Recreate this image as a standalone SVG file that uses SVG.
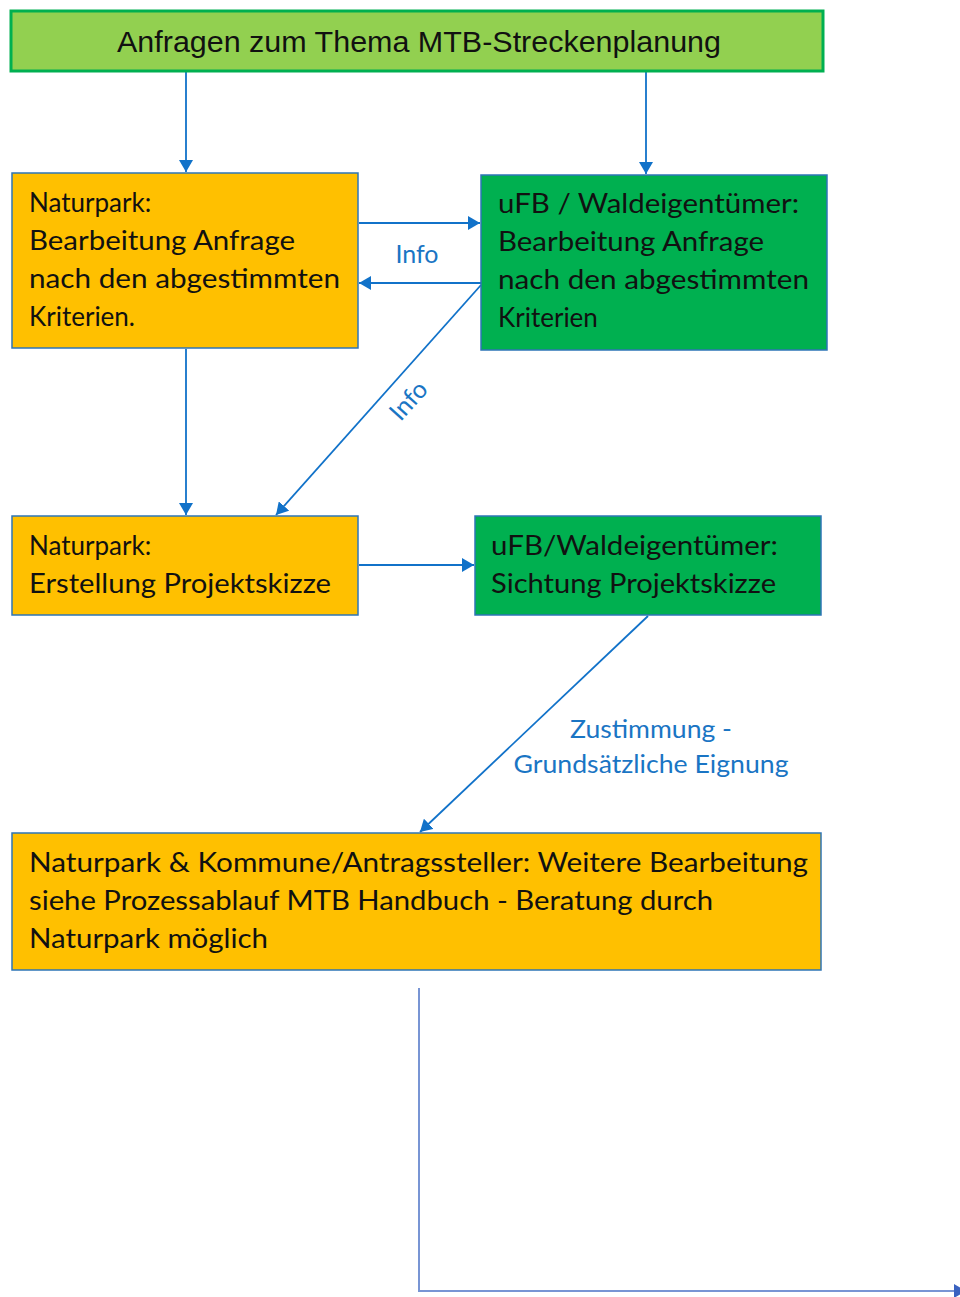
<svg xmlns="http://www.w3.org/2000/svg" width="960" height="1297" viewBox="0 0 960 1297">
<defs>
<style>
.box{stroke:#2E75B6;stroke-width:1.5}
.or{fill:#FFC000}
.gr{fill:#00B050}
.t{font-family:Lato,"Open Sans","Noto Sans",sans-serif;font-size:26px;fill:#111}
.lbl{font-family:Lato,"Open Sans","Noto Sans",sans-serif;font-size:25px;fill:#1A75C4}
.c{stroke:#1172C9;stroke-width:1.8;fill:none}
</style>
<marker id="ah" viewBox="0 0 12 14" refX="12" refY="7" markerWidth="12" markerHeight="14" markerUnits="userSpaceOnUse" orient="auto"><path d="M0,0 L12,7 L0,14 z" fill="#1172C9"/></marker>
<marker id="ah2" viewBox="0 0 12 14" refX="12" refY="7" markerWidth="12" markerHeight="14" markerUnits="userSpaceOnUse" orient="auto"><path d="M0,0 L12,7 L0,14 z" fill="#3A62C0"/></marker>
</defs>
<rect width="960" height="1297" fill="#fff"/>
<g id="connectors">
<line class="c" x1="186" y1="72" x2="186" y2="172" marker-end="url(#ah)"/>
<line class="c" x1="646" y1="72" x2="646" y2="174" marker-end="url(#ah)"/>
<line class="c" x1="359" y1="223" x2="480" y2="223" marker-end="url(#ah)"/>
<line class="c" x1="481" y1="283" x2="359" y2="283" marker-end="url(#ah)"/>
<line class="c" x1="481" y1="285" x2="276" y2="515" marker-end="url(#ah)"/>
<line class="c" x1="186" y1="349" x2="186" y2="515" marker-end="url(#ah)"/>
<line class="c" x1="359" y1="565" x2="474" y2="565" marker-end="url(#ah)"/>
<line class="c" x1="648" y1="616" x2="420" y2="832" marker-end="url(#ah)"/>
<polyline points="419,988 419,1291 966,1291" fill="none" stroke="#7895D4" stroke-width="2" marker-end="url(#ah2)"/>
<text class="lbl" x="417" y="263" text-anchor="middle">Info</text>
<text class="lbl" x="409" y="409" text-anchor="middle" transform="rotate(-48 409 401)">Info</text>
<text class="lbl" x="651" y="738" text-anchor="middle" textLength="162" lengthAdjust="spacingAndGlyphs">Zustimmung -</text>
<text class="lbl" x="651" y="773" text-anchor="middle" textLength="275" lengthAdjust="spacingAndGlyphs">Grundsätzliche Eignung</text>
</g>
<g id="n-top">
<rect x="11" y="11" width="812" height="60" fill="#92D050" stroke="#00B050" stroke-width="3"/>
<text x="419" y="52" text-anchor="middle" font-family="Liberation Sans,Arial,sans-serif" font-size="30" fill="#111" textLength="604" lengthAdjust="spacingAndGlyphs">Anfragen zum Thema MTB-Streckenplanung</text>
</g>
<g id="n-np1">
<rect class="box or" x="12" y="173" width="346" height="175"/>
<text class="t" x="29" y="212">Naturpark:</text>
<text class="t" x="29" y="250" textLength="266" lengthAdjust="spacingAndGlyphs">Bearbeitung Anfrage</text>
<text class="t" x="29" y="288" textLength="311" lengthAdjust="spacingAndGlyphs">nach den abgestimmten</text>
<text class="t" x="29" y="326">Kriterien.</text>
</g>
<g id="n-ufb1">
<rect class="box gr" x="481" y="175" width="346" height="175"/>
<text class="t" x="498" y="213" textLength="301" lengthAdjust="spacingAndGlyphs">uFB / Waldeigentümer:</text>
<text class="t" x="498" y="251" textLength="266" lengthAdjust="spacingAndGlyphs">Bearbeitung Anfrage</text>
<text class="t" x="498" y="289" textLength="311" lengthAdjust="spacingAndGlyphs">nach den abgestimmten</text>
<text class="t" x="498" y="327">Kriterien</text>
</g>
<g id="n-np2">
<rect class="box or" x="12" y="516" width="346" height="99"/>
<text class="t" x="29" y="555">Naturpark:</text>
<text class="t" x="29" y="593" textLength="302" lengthAdjust="spacingAndGlyphs">Erstellung Projektskizze</text>
</g>
<g id="n-ufb2">
<rect class="box gr" x="475" y="516" width="346" height="99"/>
<text class="t" x="491" y="555" textLength="287" lengthAdjust="spacingAndGlyphs">uFB/Waldeigentümer:</text>
<text class="t" x="491" y="593" textLength="285" lengthAdjust="spacingAndGlyphs">Sichtung Projektskizze</text>
</g>
<g id="n-np3">
<rect class="box or" x="12" y="833" width="809" height="137"/>
<text class="t" x="29" y="872" textLength="779" lengthAdjust="spacingAndGlyphs">Naturpark &amp; Kommune/Antragssteller: Weitere Bearbeitung</text>
<text class="t" x="29" y="910" textLength="684" lengthAdjust="spacingAndGlyphs">siehe Prozessablauf MTB Handbuch - Beratung durch</text>
<text class="t" x="29" y="948" textLength="239" lengthAdjust="spacingAndGlyphs">Naturpark möglich</text>
</g>
</svg>
